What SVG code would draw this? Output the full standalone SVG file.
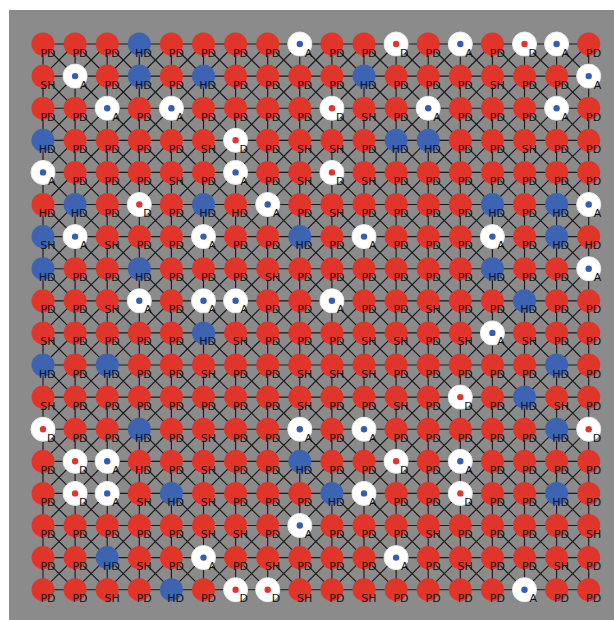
<svg xmlns="http://www.w3.org/2000/svg" width="614" height="620" viewBox="0 0 614 620">
<style>
.r{fill:#e2352a}
.b{fill:#3d63b3}
.w{fill:#ffffff;stroke:#ececec;stroke-width:1}
.bd{fill:#2f5fb8}
.rd{fill:#e2352a}
text{font-family:"DejaVu Sans","Liberation Sans",sans-serif;font-size:11px;fill:#111;text-anchor:end}
.edges{fill:none;stroke:#1a1a1a;stroke-width:1.15}
</style>
<rect x="0" y="0" width="614" height="620" fill="#ffffff"/>
<rect x="9" y="10" width="605" height="610" fill="#8b8b8b"/>
<g transform="translate(43 44)">
<g id="connectors" class="edges">
<path d="M0 0H545.7M0 32.1H545.7M0 64.2H545.7M0 96.3H545.7M0 128.4H545.7M0 160.5H545.7M0 192.6H545.7M0 224.7H545.7M0 256.8H545.7M0 288.9H545.7M0 321H545.7M0 353.1H545.7M0 385.2H545.7M0 417.3H545.7M0 449.4H545.7M0 481.5H545.7M0 513.6H545.7M0 545.7H545.7"/>
<path d="M0 0V545.7M32.1 0V545.7M64.2 0V545.7M96.3 0V545.7M128.4 0V545.7M160.5 0V545.7M192.6 0V545.7M224.7 0V545.7M256.8 0V545.7M288.9 0V545.7M321 0V545.7M353.1 0V545.7M385.2 0V545.7M417.3 0V545.7M449.4 0V545.7M481.5 0V545.7M513.6 0V545.7M545.7 0V545.7"/>
<path d="M0 0L545.7 545.7M32.1 0L545.7 513.6M64.2 0L545.7 481.5M96.3 0L545.7 449.4M128.4 0L545.7 417.3M160.5 0L545.7 385.2M192.6 0L545.7 353.1M224.7 0L545.7 321M256.8 0L545.7 288.9M288.9 0L545.7 256.8M321 0L545.7 224.7M353.1 0L545.7 192.6M385.2 0L545.7 160.5M417.3 0L545.7 128.4M449.4 0L545.7 96.3M481.5 0L545.7 64.2M513.6 0L545.7 32.1M0 32.1L513.6 545.7M0 64.2L481.5 545.7M0 96.3L449.4 545.7M0 128.4L417.3 545.7M0 160.5L385.2 545.7M0 192.6L353.1 545.7M0 224.7L321 545.7M0 256.8L288.9 545.7M0 288.9L256.8 545.7M0 321L224.7 545.7M0 353.1L192.6 545.7M0 385.2L160.5 545.7M0 417.3L128.4 545.7M0 449.4L96.3 545.7M0 481.5L64.2 545.7M0 513.6L32.1 545.7"/>
<path d="M32.1 0L0 32.1M64.2 0L0 64.2M96.3 0L0 96.3M128.4 0L0 128.4M160.5 0L0 160.5M192.6 0L0 192.6M224.7 0L0 224.7M256.8 0L0 256.8M288.9 0L0 288.9M321 0L0 321M353.1 0L0 353.1M385.2 0L0 385.2M417.3 0L0 417.3M449.4 0L0 449.4M481.5 0L0 481.5M513.6 0L0 513.6M545.7 0L0 545.7M545.7 32.1L32.1 545.7M545.7 64.2L64.2 545.7M545.7 96.3L96.3 545.7M545.7 128.4L128.4 545.7M545.7 160.5L160.5 545.7M545.7 192.6L192.6 545.7M545.7 224.7L224.7 545.7M545.7 256.8L256.8 545.7M545.7 288.9L288.9 545.7M545.7 321L321 545.7M545.7 353.1L353.1 545.7M545.7 385.2L385.2 545.7M545.7 417.3L417.3 545.7M545.7 449.4L449.4 545.7M545.7 481.5L481.5 545.7M545.7 513.6L513.6 545.7"/>
</g>
<g id="nodes">
<g id="r0c0" transform="translate(0 0)"><circle class="r" r="11.5"/><text x="12.5" y="12.5">PD</text></g>
<g id="r0c1" transform="translate(32.1 0)"><circle class="r" r="11.5"/><text x="12.5" y="12.5">PD</text></g>
<g id="r0c2" transform="translate(64.2 0)"><circle class="r" r="11.5"/><text x="12.5" y="12.5">PD</text></g>
<g id="r0c3" transform="translate(96.3 0)"><circle class="b" r="11.5"/><text x="12.5" y="12.5">HD</text></g>
<g id="r0c4" transform="translate(128.4 0)"><circle class="r" r="11.5"/><text x="12.5" y="12.5">PD</text></g>
<g id="r0c5" transform="translate(160.5 0)"><circle class="r" r="11.5"/><text x="12.5" y="12.5">PD</text></g>
<g id="r0c6" transform="translate(192.6 0)"><circle class="r" r="11.5"/><text x="12.5" y="12.5">PD</text></g>
<g id="r0c7" transform="translate(224.7 0)"><circle class="r" r="11.5"/><text x="12.5" y="12.5">PD</text></g>
<g id="r0c8" transform="translate(256.8 0)"><circle class="w" r="12"/><circle class="bd" r="3.2"/><text x="12.5" y="12.5">A</text></g>
<g id="r0c9" transform="translate(288.9 0)"><circle class="r" r="11.5"/><text x="12.5" y="12.5">PD</text></g>
<g id="r0c10" transform="translate(321 0)"><circle class="r" r="11.5"/><text x="12.5" y="12.5">PD</text></g>
<g id="r0c11" transform="translate(353.1 0)"><circle class="w" r="12"/><circle class="rd" r="3.2"/><text x="12.5" y="12.5">D</text></g>
<g id="r0c12" transform="translate(385.2 0)"><circle class="r" r="11.5"/><text x="12.5" y="12.5">PD</text></g>
<g id="r0c13" transform="translate(417.3 0)"><circle class="w" r="12"/><circle class="bd" r="3.2"/><text x="12.5" y="12.5">A</text></g>
<g id="r0c14" transform="translate(449.4 0)"><circle class="r" r="11.5"/><text x="12.5" y="12.5">PD</text></g>
<g id="r0c15" transform="translate(481.5 0)"><circle class="w" r="12"/><circle class="rd" r="3.2"/><text x="12.5" y="12.5">D</text></g>
<g id="r0c16" transform="translate(513.6 0)"><circle class="w" r="12"/><circle class="bd" r="3.2"/><text x="12.5" y="12.5">A</text></g>
<g id="r0c17" transform="translate(545.7 0)"><circle class="r" r="11.5"/><text x="12.5" y="12.5">PD</text></g>
<g id="r1c0" transform="translate(0 32.1)"><circle class="r" r="11.5"/><text x="12.5" y="12.5">SH</text></g>
<g id="r1c1" transform="translate(32.1 32.1)"><circle class="w" r="12"/><circle class="bd" r="3.2"/><text x="12.5" y="12.5">A</text></g>
<g id="r1c2" transform="translate(64.2 32.1)"><circle class="r" r="11.5"/><text x="12.5" y="12.5">PD</text></g>
<g id="r1c3" transform="translate(96.3 32.1)"><circle class="b" r="11.5"/><text x="12.5" y="12.5">HD</text></g>
<g id="r1c4" transform="translate(128.4 32.1)"><circle class="r" r="11.5"/><text x="12.5" y="12.5">PD</text></g>
<g id="r1c5" transform="translate(160.5 32.1)"><circle class="b" r="11.5"/><text x="12.5" y="12.5">HD</text></g>
<g id="r1c6" transform="translate(192.6 32.1)"><circle class="r" r="11.5"/><text x="12.5" y="12.5">PD</text></g>
<g id="r1c7" transform="translate(224.7 32.1)"><circle class="r" r="11.5"/><text x="12.5" y="12.5">PD</text></g>
<g id="r1c8" transform="translate(256.8 32.1)"><circle class="r" r="11.5"/><text x="12.5" y="12.5">PD</text></g>
<g id="r1c9" transform="translate(288.9 32.1)"><circle class="r" r="11.5"/><text x="12.5" y="12.5">PD</text></g>
<g id="r1c10" transform="translate(321 32.1)"><circle class="b" r="11.5"/><text x="12.5" y="12.5">HD</text></g>
<g id="r1c11" transform="translate(353.1 32.1)"><circle class="r" r="11.5"/><text x="12.5" y="12.5">PD</text></g>
<g id="r1c12" transform="translate(385.2 32.1)"><circle class="r" r="11.5"/><text x="12.5" y="12.5">PD</text></g>
<g id="r1c13" transform="translate(417.3 32.1)"><circle class="r" r="11.5"/><text x="12.5" y="12.5">PD</text></g>
<g id="r1c14" transform="translate(449.4 32.1)"><circle class="r" r="11.5"/><text x="12.5" y="12.5">SH</text></g>
<g id="r1c15" transform="translate(481.5 32.1)"><circle class="r" r="11.5"/><text x="12.5" y="12.5">PD</text></g>
<g id="r1c16" transform="translate(513.6 32.1)"><circle class="r" r="11.5"/><text x="12.5" y="12.5">PD</text></g>
<g id="r1c17" transform="translate(545.7 32.1)"><circle class="w" r="12"/><circle class="bd" r="3.2"/><text x="12.5" y="12.5">A</text></g>
<g id="r2c0" transform="translate(0 64.2)"><circle class="r" r="11.5"/><text x="12.5" y="12.5">PD</text></g>
<g id="r2c1" transform="translate(32.1 64.2)"><circle class="r" r="11.5"/><text x="12.5" y="12.5">PD</text></g>
<g id="r2c2" transform="translate(64.2 64.2)"><circle class="w" r="12"/><circle class="bd" r="3.2"/><text x="12.5" y="12.5">A</text></g>
<g id="r2c3" transform="translate(96.3 64.2)"><circle class="r" r="11.5"/><text x="12.5" y="12.5">PD</text></g>
<g id="r2c4" transform="translate(128.4 64.2)"><circle class="w" r="12"/><circle class="bd" r="3.2"/><text x="12.5" y="12.5">A</text></g>
<g id="r2c5" transform="translate(160.5 64.2)"><circle class="r" r="11.5"/><text x="12.5" y="12.5">PD</text></g>
<g id="r2c6" transform="translate(192.6 64.2)"><circle class="r" r="11.5"/><text x="12.5" y="12.5">PD</text></g>
<g id="r2c7" transform="translate(224.7 64.2)"><circle class="r" r="11.5"/><text x="12.5" y="12.5">PD</text></g>
<g id="r2c8" transform="translate(256.8 64.2)"><circle class="r" r="11.5"/><text x="12.5" y="12.5">PD</text></g>
<g id="r2c9" transform="translate(288.9 64.2)"><circle class="w" r="12"/><circle class="rd" r="3.2"/><text x="12.5" y="12.5">D</text></g>
<g id="r2c10" transform="translate(321 64.2)"><circle class="r" r="11.5"/><text x="12.5" y="12.5">SH</text></g>
<g id="r2c11" transform="translate(353.1 64.2)"><circle class="r" r="11.5"/><text x="12.5" y="12.5">PD</text></g>
<g id="r2c12" transform="translate(385.2 64.2)"><circle class="w" r="12"/><circle class="bd" r="3.2"/><text x="12.5" y="12.5">A</text></g>
<g id="r2c13" transform="translate(417.3 64.2)"><circle class="r" r="11.5"/><text x="12.5" y="12.5">PD</text></g>
<g id="r2c14" transform="translate(449.4 64.2)"><circle class="r" r="11.5"/><text x="12.5" y="12.5">PD</text></g>
<g id="r2c15" transform="translate(481.5 64.2)"><circle class="r" r="11.5"/><text x="12.5" y="12.5">PD</text></g>
<g id="r2c16" transform="translate(513.6 64.2)"><circle class="w" r="12"/><circle class="bd" r="3.2"/><text x="12.5" y="12.5">A</text></g>
<g id="r2c17" transform="translate(545.7 64.2)"><circle class="r" r="11.5"/><text x="12.5" y="12.5">PD</text></g>
<g id="r3c0" transform="translate(0 96.3)"><circle class="b" r="11.5"/><text x="12.5" y="12.5">HD</text></g>
<g id="r3c1" transform="translate(32.1 96.3)"><circle class="r" r="11.5"/><text x="12.5" y="12.5">PD</text></g>
<g id="r3c2" transform="translate(64.2 96.3)"><circle class="r" r="11.5"/><text x="12.5" y="12.5">PD</text></g>
<g id="r3c3" transform="translate(96.3 96.3)"><circle class="r" r="11.5"/><text x="12.5" y="12.5">PD</text></g>
<g id="r3c4" transform="translate(128.4 96.3)"><circle class="r" r="11.5"/><text x="12.5" y="12.5">PD</text></g>
<g id="r3c5" transform="translate(160.5 96.3)"><circle class="r" r="11.5"/><text x="12.5" y="12.5">SH</text></g>
<g id="r3c6" transform="translate(192.6 96.3)"><circle class="w" r="12"/><circle class="rd" r="3.2"/><text x="12.5" y="12.5">D</text></g>
<g id="r3c7" transform="translate(224.7 96.3)"><circle class="r" r="11.5"/><text x="12.5" y="12.5">PD</text></g>
<g id="r3c8" transform="translate(256.8 96.3)"><circle class="r" r="11.5"/><text x="12.5" y="12.5">SH</text></g>
<g id="r3c9" transform="translate(288.9 96.3)"><circle class="r" r="11.5"/><text x="12.5" y="12.5">SH</text></g>
<g id="r3c10" transform="translate(321 96.3)"><circle class="r" r="11.5"/><text x="12.5" y="12.5">PD</text></g>
<g id="r3c11" transform="translate(353.1 96.3)"><circle class="b" r="11.5"/><text x="12.5" y="12.5">HD</text></g>
<g id="r3c12" transform="translate(385.2 96.3)"><circle class="b" r="11.5"/><text x="12.5" y="12.5">HD</text></g>
<g id="r3c13" transform="translate(417.3 96.3)"><circle class="r" r="11.5"/><text x="12.5" y="12.5">PD</text></g>
<g id="r3c14" transform="translate(449.4 96.3)"><circle class="r" r="11.5"/><text x="12.5" y="12.5">PD</text></g>
<g id="r3c15" transform="translate(481.5 96.3)"><circle class="r" r="11.5"/><text x="12.5" y="12.5">SH</text></g>
<g id="r3c16" transform="translate(513.6 96.3)"><circle class="r" r="11.5"/><text x="12.5" y="12.5">PD</text></g>
<g id="r3c17" transform="translate(545.7 96.3)"><circle class="r" r="11.5"/><text x="12.5" y="12.5">PD</text></g>
<g id="r4c0" transform="translate(0 128.4)"><circle class="w" r="12"/><circle class="bd" r="3.2"/><text x="12.5" y="12.5">A</text></g>
<g id="r4c1" transform="translate(32.1 128.4)"><circle class="r" r="11.5"/><text x="12.5" y="12.5">PD</text></g>
<g id="r4c2" transform="translate(64.2 128.4)"><circle class="r" r="11.5"/><text x="12.5" y="12.5">PD</text></g>
<g id="r4c3" transform="translate(96.3 128.4)"><circle class="r" r="11.5"/><text x="12.5" y="12.5">PD</text></g>
<g id="r4c4" transform="translate(128.4 128.4)"><circle class="r" r="11.5"/><text x="12.5" y="12.5">SH</text></g>
<g id="r4c5" transform="translate(160.5 128.4)"><circle class="r" r="11.5"/><text x="12.5" y="12.5">PD</text></g>
<g id="r4c6" transform="translate(192.6 128.4)"><circle class="w" r="12"/><circle class="bd" r="3.2"/><text x="12.5" y="12.5">A</text></g>
<g id="r4c7" transform="translate(224.7 128.4)"><circle class="r" r="11.5"/><text x="12.5" y="12.5">PD</text></g>
<g id="r4c8" transform="translate(256.8 128.4)"><circle class="r" r="11.5"/><text x="12.5" y="12.5">SH</text></g>
<g id="r4c9" transform="translate(288.9 128.4)"><circle class="w" r="12"/><circle class="rd" r="3.2"/><text x="12.5" y="12.5">D</text></g>
<g id="r4c10" transform="translate(321 128.4)"><circle class="r" r="11.5"/><text x="12.5" y="12.5">SH</text></g>
<g id="r4c11" transform="translate(353.1 128.4)"><circle class="r" r="11.5"/><text x="12.5" y="12.5">PD</text></g>
<g id="r4c12" transform="translate(385.2 128.4)"><circle class="r" r="11.5"/><text x="12.5" y="12.5">PD</text></g>
<g id="r4c13" transform="translate(417.3 128.4)"><circle class="r" r="11.5"/><text x="12.5" y="12.5">PD</text></g>
<g id="r4c14" transform="translate(449.4 128.4)"><circle class="r" r="11.5"/><text x="12.5" y="12.5">PD</text></g>
<g id="r4c15" transform="translate(481.5 128.4)"><circle class="r" r="11.5"/><text x="12.5" y="12.5">PD</text></g>
<g id="r4c16" transform="translate(513.6 128.4)"><circle class="r" r="11.5"/><text x="12.5" y="12.5">PD</text></g>
<g id="r4c17" transform="translate(545.7 128.4)"><circle class="r" r="11.5"/><text x="12.5" y="12.5">PD</text></g>
<g id="r5c0" transform="translate(0 160.5)"><circle class="r" r="11.5"/><text x="12.5" y="12.5">HD</text></g>
<g id="r5c1" transform="translate(32.1 160.5)"><circle class="b" r="11.5"/><text x="12.5" y="12.5">HD</text></g>
<g id="r5c2" transform="translate(64.2 160.5)"><circle class="r" r="11.5"/><text x="12.5" y="12.5">PD</text></g>
<g id="r5c3" transform="translate(96.3 160.5)"><circle class="w" r="12"/><circle class="rd" r="3.2"/><text x="12.5" y="12.5">D</text></g>
<g id="r5c4" transform="translate(128.4 160.5)"><circle class="r" r="11.5"/><text x="12.5" y="12.5">PD</text></g>
<g id="r5c5" transform="translate(160.5 160.5)"><circle class="b" r="11.5"/><text x="12.5" y="12.5">HD</text></g>
<g id="r5c6" transform="translate(192.6 160.5)"><circle class="r" r="11.5"/><text x="12.5" y="12.5">HD</text></g>
<g id="r5c7" transform="translate(224.7 160.5)"><circle class="w" r="12"/><circle class="bd" r="3.2"/><text x="12.5" y="12.5">A</text></g>
<g id="r5c8" transform="translate(256.8 160.5)"><circle class="r" r="11.5"/><text x="12.5" y="12.5">PD</text></g>
<g id="r5c9" transform="translate(288.9 160.5)"><circle class="r" r="11.5"/><text x="12.5" y="12.5">SH</text></g>
<g id="r5c10" transform="translate(321 160.5)"><circle class="r" r="11.5"/><text x="12.5" y="12.5">PD</text></g>
<g id="r5c11" transform="translate(353.1 160.5)"><circle class="r" r="11.5"/><text x="12.5" y="12.5">PD</text></g>
<g id="r5c12" transform="translate(385.2 160.5)"><circle class="r" r="11.5"/><text x="12.5" y="12.5">PD</text></g>
<g id="r5c13" transform="translate(417.3 160.5)"><circle class="r" r="11.5"/><text x="12.5" y="12.5">PD</text></g>
<g id="r5c14" transform="translate(449.4 160.5)"><circle class="b" r="11.5"/><text x="12.5" y="12.5">HD</text></g>
<g id="r5c15" transform="translate(481.5 160.5)"><circle class="r" r="11.5"/><text x="12.5" y="12.5">PD</text></g>
<g id="r5c16" transform="translate(513.6 160.5)"><circle class="b" r="11.5"/><text x="12.5" y="12.5">HD</text></g>
<g id="r5c17" transform="translate(545.7 160.5)"><circle class="w" r="12"/><circle class="bd" r="3.2"/><text x="12.5" y="12.5">A</text></g>
<g id="r6c0" transform="translate(0 192.6)"><circle class="b" r="11.5"/><text x="12.5" y="12.5">SH</text></g>
<g id="r6c1" transform="translate(32.1 192.6)"><circle class="w" r="12"/><circle class="bd" r="3.2"/><text x="12.5" y="12.5">A</text></g>
<g id="r6c2" transform="translate(64.2 192.6)"><circle class="r" r="11.5"/><text x="12.5" y="12.5">SH</text></g>
<g id="r6c3" transform="translate(96.3 192.6)"><circle class="r" r="11.5"/><text x="12.5" y="12.5">PD</text></g>
<g id="r6c4" transform="translate(128.4 192.6)"><circle class="r" r="11.5"/><text x="12.5" y="12.5">PD</text></g>
<g id="r6c5" transform="translate(160.5 192.6)"><circle class="w" r="12"/><circle class="bd" r="3.2"/><text x="12.5" y="12.5">A</text></g>
<g id="r6c6" transform="translate(192.6 192.6)"><circle class="r" r="11.5"/><text x="12.5" y="12.5">PD</text></g>
<g id="r6c7" transform="translate(224.7 192.6)"><circle class="r" r="11.5"/><text x="12.5" y="12.5">PD</text></g>
<g id="r6c8" transform="translate(256.8 192.6)"><circle class="b" r="11.5"/><text x="12.5" y="12.5">HD</text></g>
<g id="r6c9" transform="translate(288.9 192.6)"><circle class="r" r="11.5"/><text x="12.5" y="12.5">PD</text></g>
<g id="r6c10" transform="translate(321 192.6)"><circle class="w" r="12"/><circle class="bd" r="3.2"/><text x="12.5" y="12.5">A</text></g>
<g id="r6c11" transform="translate(353.1 192.6)"><circle class="r" r="11.5"/><text x="12.5" y="12.5">PD</text></g>
<g id="r6c12" transform="translate(385.2 192.6)"><circle class="r" r="11.5"/><text x="12.5" y="12.5">PD</text></g>
<g id="r6c13" transform="translate(417.3 192.6)"><circle class="r" r="11.5"/><text x="12.5" y="12.5">PD</text></g>
<g id="r6c14" transform="translate(449.4 192.6)"><circle class="w" r="12"/><circle class="bd" r="3.2"/><text x="12.5" y="12.5">A</text></g>
<g id="r6c15" transform="translate(481.5 192.6)"><circle class="r" r="11.5"/><text x="12.5" y="12.5">PD</text></g>
<g id="r6c16" transform="translate(513.6 192.6)"><circle class="b" r="11.5"/><text x="12.5" y="12.5">HD</text></g>
<g id="r6c17" transform="translate(545.7 192.6)"><circle class="r" r="11.5"/><text x="12.5" y="12.5">HD</text></g>
<g id="r7c0" transform="translate(0 224.7)"><circle class="b" r="11.5"/><text x="12.5" y="12.5">HD</text></g>
<g id="r7c1" transform="translate(32.1 224.7)"><circle class="r" r="11.5"/><text x="12.5" y="12.5">PD</text></g>
<g id="r7c2" transform="translate(64.2 224.7)"><circle class="r" r="11.5"/><text x="12.5" y="12.5">PD</text></g>
<g id="r7c3" transform="translate(96.3 224.7)"><circle class="b" r="11.5"/><text x="12.5" y="12.5">HD</text></g>
<g id="r7c4" transform="translate(128.4 224.7)"><circle class="r" r="11.5"/><text x="12.5" y="12.5">PD</text></g>
<g id="r7c5" transform="translate(160.5 224.7)"><circle class="r" r="11.5"/><text x="12.5" y="12.5">PD</text></g>
<g id="r7c6" transform="translate(192.6 224.7)"><circle class="r" r="11.5"/><text x="12.5" y="12.5">PD</text></g>
<g id="r7c7" transform="translate(224.7 224.7)"><circle class="r" r="11.5"/><text x="12.5" y="12.5">SH</text></g>
<g id="r7c8" transform="translate(256.8 224.7)"><circle class="r" r="11.5"/><text x="12.5" y="12.5">PD</text></g>
<g id="r7c9" transform="translate(288.9 224.7)"><circle class="r" r="11.5"/><text x="12.5" y="12.5">PD</text></g>
<g id="r7c10" transform="translate(321 224.7)"><circle class="r" r="11.5"/><text x="12.5" y="12.5">PD</text></g>
<g id="r7c11" transform="translate(353.1 224.7)"><circle class="r" r="11.5"/><text x="12.5" y="12.5">PD</text></g>
<g id="r7c12" transform="translate(385.2 224.7)"><circle class="r" r="11.5"/><text x="12.5" y="12.5">PD</text></g>
<g id="r7c13" transform="translate(417.3 224.7)"><circle class="r" r="11.5"/><text x="12.5" y="12.5">PD</text></g>
<g id="r7c14" transform="translate(449.4 224.7)"><circle class="b" r="11.5"/><text x="12.5" y="12.5">HD</text></g>
<g id="r7c15" transform="translate(481.5 224.7)"><circle class="r" r="11.5"/><text x="12.5" y="12.5">PD</text></g>
<g id="r7c16" transform="translate(513.6 224.7)"><circle class="r" r="11.5"/><text x="12.5" y="12.5">PD</text></g>
<g id="r7c17" transform="translate(545.7 224.7)"><circle class="w" r="12"/><circle class="bd" r="3.2"/><text x="12.5" y="12.5">A</text></g>
<g id="r8c0" transform="translate(0 256.8)"><circle class="r" r="11.5"/><text x="12.5" y="12.5">PD</text></g>
<g id="r8c1" transform="translate(32.1 256.8)"><circle class="r" r="11.5"/><text x="12.5" y="12.5">PD</text></g>
<g id="r8c2" transform="translate(64.2 256.8)"><circle class="r" r="11.5"/><text x="12.5" y="12.5">SH</text></g>
<g id="r8c3" transform="translate(96.3 256.8)"><circle class="w" r="12"/><circle class="bd" r="3.2"/><text x="12.5" y="12.5">A</text></g>
<g id="r8c4" transform="translate(128.4 256.8)"><circle class="r" r="11.5"/><text x="12.5" y="12.5">PD</text></g>
<g id="r8c5" transform="translate(160.5 256.8)"><circle class="w" r="12"/><circle class="bd" r="3.2"/><text x="12.5" y="12.5">A</text></g>
<g id="r8c6" transform="translate(192.6 256.8)"><circle class="w" r="12"/><circle class="bd" r="3.2"/><text x="12.5" y="12.5">A</text></g>
<g id="r8c7" transform="translate(224.7 256.8)"><circle class="r" r="11.5"/><text x="12.5" y="12.5">PD</text></g>
<g id="r8c8" transform="translate(256.8 256.8)"><circle class="r" r="11.5"/><text x="12.5" y="12.5">PD</text></g>
<g id="r8c9" transform="translate(288.9 256.8)"><circle class="w" r="12"/><circle class="bd" r="3.2"/><text x="12.5" y="12.5">A</text></g>
<g id="r8c10" transform="translate(321 256.8)"><circle class="r" r="11.5"/><text x="12.5" y="12.5">PD</text></g>
<g id="r8c11" transform="translate(353.1 256.8)"><circle class="r" r="11.5"/><text x="12.5" y="12.5">PD</text></g>
<g id="r8c12" transform="translate(385.2 256.8)"><circle class="r" r="11.5"/><text x="12.5" y="12.5">SH</text></g>
<g id="r8c13" transform="translate(417.3 256.8)"><circle class="r" r="11.5"/><text x="12.5" y="12.5">PD</text></g>
<g id="r8c14" transform="translate(449.4 256.8)"><circle class="r" r="11.5"/><text x="12.5" y="12.5">PD</text></g>
<g id="r8c15" transform="translate(481.5 256.8)"><circle class="b" r="11.5"/><text x="12.5" y="12.5">HD</text></g>
<g id="r8c16" transform="translate(513.6 256.8)"><circle class="r" r="11.5"/><text x="12.5" y="12.5">PD</text></g>
<g id="r8c17" transform="translate(545.7 256.8)"><circle class="r" r="11.5"/><text x="12.5" y="12.5">PD</text></g>
<g id="r9c0" transform="translate(0 288.9)"><circle class="r" r="11.5"/><text x="12.5" y="12.5">SH</text></g>
<g id="r9c1" transform="translate(32.1 288.9)"><circle class="r" r="11.5"/><text x="12.5" y="12.5">PD</text></g>
<g id="r9c2" transform="translate(64.2 288.9)"><circle class="r" r="11.5"/><text x="12.5" y="12.5">PD</text></g>
<g id="r9c3" transform="translate(96.3 288.9)"><circle class="r" r="11.5"/><text x="12.5" y="12.5">PD</text></g>
<g id="r9c4" transform="translate(128.4 288.9)"><circle class="r" r="11.5"/><text x="12.5" y="12.5">PD</text></g>
<g id="r9c5" transform="translate(160.5 288.9)"><circle class="b" r="11.5"/><text x="12.5" y="12.5">HD</text></g>
<g id="r9c6" transform="translate(192.6 288.9)"><circle class="r" r="11.5"/><text x="12.5" y="12.5">SH</text></g>
<g id="r9c7" transform="translate(224.7 288.9)"><circle class="r" r="11.5"/><text x="12.5" y="12.5">PD</text></g>
<g id="r9c8" transform="translate(256.8 288.9)"><circle class="r" r="11.5"/><text x="12.5" y="12.5">PD</text></g>
<g id="r9c9" transform="translate(288.9 288.9)"><circle class="r" r="11.5"/><text x="12.5" y="12.5">PD</text></g>
<g id="r9c10" transform="translate(321 288.9)"><circle class="r" r="11.5"/><text x="12.5" y="12.5">SH</text></g>
<g id="r9c11" transform="translate(353.1 288.9)"><circle class="r" r="11.5"/><text x="12.5" y="12.5">SH</text></g>
<g id="r9c12" transform="translate(385.2 288.9)"><circle class="r" r="11.5"/><text x="12.5" y="12.5">PD</text></g>
<g id="r9c13" transform="translate(417.3 288.9)"><circle class="r" r="11.5"/><text x="12.5" y="12.5">SH</text></g>
<g id="r9c14" transform="translate(449.4 288.9)"><circle class="w" r="12"/><circle class="bd" r="3.2"/><text x="12.5" y="12.5">A</text></g>
<g id="r9c15" transform="translate(481.5 288.9)"><circle class="r" r="11.5"/><text x="12.5" y="12.5">SH</text></g>
<g id="r9c16" transform="translate(513.6 288.9)"><circle class="r" r="11.5"/><text x="12.5" y="12.5">PD</text></g>
<g id="r9c17" transform="translate(545.7 288.9)"><circle class="r" r="11.5"/><text x="12.5" y="12.5">PD</text></g>
<g id="r10c0" transform="translate(0 321)"><circle class="b" r="11.5"/><text x="12.5" y="12.5">HD</text></g>
<g id="r10c1" transform="translate(32.1 321)"><circle class="r" r="11.5"/><text x="12.5" y="12.5">PD</text></g>
<g id="r10c2" transform="translate(64.2 321)"><circle class="b" r="11.5"/><text x="12.5" y="12.5">HD</text></g>
<g id="r10c3" transform="translate(96.3 321)"><circle class="r" r="11.5"/><text x="12.5" y="12.5">PD</text></g>
<g id="r10c4" transform="translate(128.4 321)"><circle class="r" r="11.5"/><text x="12.5" y="12.5">PD</text></g>
<g id="r10c5" transform="translate(160.5 321)"><circle class="r" r="11.5"/><text x="12.5" y="12.5">SH</text></g>
<g id="r10c6" transform="translate(192.6 321)"><circle class="r" r="11.5"/><text x="12.5" y="12.5">PD</text></g>
<g id="r10c7" transform="translate(224.7 321)"><circle class="r" r="11.5"/><text x="12.5" y="12.5">PD</text></g>
<g id="r10c8" transform="translate(256.8 321)"><circle class="r" r="11.5"/><text x="12.5" y="12.5">SH</text></g>
<g id="r10c9" transform="translate(288.9 321)"><circle class="r" r="11.5"/><text x="12.5" y="12.5">SH</text></g>
<g id="r10c10" transform="translate(321 321)"><circle class="r" r="11.5"/><text x="12.5" y="12.5">SH</text></g>
<g id="r10c11" transform="translate(353.1 321)"><circle class="r" r="11.5"/><text x="12.5" y="12.5">PD</text></g>
<g id="r10c12" transform="translate(385.2 321)"><circle class="r" r="11.5"/><text x="12.5" y="12.5">PD</text></g>
<g id="r10c13" transform="translate(417.3 321)"><circle class="r" r="11.5"/><text x="12.5" y="12.5">PD</text></g>
<g id="r10c14" transform="translate(449.4 321)"><circle class="r" r="11.5"/><text x="12.5" y="12.5">PD</text></g>
<g id="r10c15" transform="translate(481.5 321)"><circle class="r" r="11.5"/><text x="12.5" y="12.5">PD</text></g>
<g id="r10c16" transform="translate(513.6 321)"><circle class="b" r="11.5"/><text x="12.5" y="12.5">HD</text></g>
<g id="r10c17" transform="translate(545.7 321)"><circle class="r" r="11.5"/><text x="12.5" y="12.5">PD</text></g>
<g id="r11c0" transform="translate(0 353.1)"><circle class="r" r="11.5"/><text x="12.5" y="12.5">SH</text></g>
<g id="r11c1" transform="translate(32.1 353.1)"><circle class="r" r="11.5"/><text x="12.5" y="12.5">PD</text></g>
<g id="r11c2" transform="translate(64.2 353.1)"><circle class="r" r="11.5"/><text x="12.5" y="12.5">PD</text></g>
<g id="r11c3" transform="translate(96.3 353.1)"><circle class="r" r="11.5"/><text x="12.5" y="12.5">PD</text></g>
<g id="r11c4" transform="translate(128.4 353.1)"><circle class="r" r="11.5"/><text x="12.5" y="12.5">PD</text></g>
<g id="r11c5" transform="translate(160.5 353.1)"><circle class="r" r="11.5"/><text x="12.5" y="12.5">PD</text></g>
<g id="r11c6" transform="translate(192.6 353.1)"><circle class="r" r="11.5"/><text x="12.5" y="12.5">PD</text></g>
<g id="r11c7" transform="translate(224.7 353.1)"><circle class="r" r="11.5"/><text x="12.5" y="12.5">PD</text></g>
<g id="r11c8" transform="translate(256.8 353.1)"><circle class="r" r="11.5"/><text x="12.5" y="12.5">SH</text></g>
<g id="r11c9" transform="translate(288.9 353.1)"><circle class="r" r="11.5"/><text x="12.5" y="12.5">PD</text></g>
<g id="r11c10" transform="translate(321 353.1)"><circle class="r" r="11.5"/><text x="12.5" y="12.5">PD</text></g>
<g id="r11c11" transform="translate(353.1 353.1)"><circle class="r" r="11.5"/><text x="12.5" y="12.5">SH</text></g>
<g id="r11c12" transform="translate(385.2 353.1)"><circle class="r" r="11.5"/><text x="12.5" y="12.5">PD</text></g>
<g id="r11c13" transform="translate(417.3 353.1)"><circle class="w" r="12"/><circle class="rd" r="3.2"/><text x="12.5" y="12.5">D</text></g>
<g id="r11c14" transform="translate(449.4 353.1)"><circle class="r" r="11.5"/><text x="12.5" y="12.5">PD</text></g>
<g id="r11c15" transform="translate(481.5 353.1)"><circle class="b" r="11.5"/><text x="12.5" y="12.5">HD</text></g>
<g id="r11c16" transform="translate(513.6 353.1)"><circle class="r" r="11.5"/><text x="12.5" y="12.5">SH</text></g>
<g id="r11c17" transform="translate(545.7 353.1)"><circle class="r" r="11.5"/><text x="12.5" y="12.5">PD</text></g>
<g id="r12c0" transform="translate(0 385.2)"><circle class="w" r="12"/><circle class="rd" r="3.2"/><text x="12.5" y="12.5">D</text></g>
<g id="r12c1" transform="translate(32.1 385.2)"><circle class="r" r="11.5"/><text x="12.5" y="12.5">PD</text></g>
<g id="r12c2" transform="translate(64.2 385.2)"><circle class="r" r="11.5"/><text x="12.5" y="12.5">PD</text></g>
<g id="r12c3" transform="translate(96.3 385.2)"><circle class="b" r="11.5"/><text x="12.5" y="12.5">HD</text></g>
<g id="r12c4" transform="translate(128.4 385.2)"><circle class="r" r="11.5"/><text x="12.5" y="12.5">PD</text></g>
<g id="r12c5" transform="translate(160.5 385.2)"><circle class="r" r="11.5"/><text x="12.5" y="12.5">SH</text></g>
<g id="r12c6" transform="translate(192.6 385.2)"><circle class="r" r="11.5"/><text x="12.5" y="12.5">PD</text></g>
<g id="r12c7" transform="translate(224.7 385.2)"><circle class="r" r="11.5"/><text x="12.5" y="12.5">PD</text></g>
<g id="r12c8" transform="translate(256.8 385.2)"><circle class="w" r="12"/><circle class="bd" r="3.2"/><text x="12.5" y="12.5">A</text></g>
<g id="r12c9" transform="translate(288.9 385.2)"><circle class="r" r="11.5"/><text x="12.5" y="12.5">PD</text></g>
<g id="r12c10" transform="translate(321 385.2)"><circle class="w" r="12"/><circle class="bd" r="3.2"/><text x="12.5" y="12.5">A</text></g>
<g id="r12c11" transform="translate(353.1 385.2)"><circle class="r" r="11.5"/><text x="12.5" y="12.5">PD</text></g>
<g id="r12c12" transform="translate(385.2 385.2)"><circle class="r" r="11.5"/><text x="12.5" y="12.5">PD</text></g>
<g id="r12c13" transform="translate(417.3 385.2)"><circle class="r" r="11.5"/><text x="12.5" y="12.5">PD</text></g>
<g id="r12c14" transform="translate(449.4 385.2)"><circle class="r" r="11.5"/><text x="12.5" y="12.5">PD</text></g>
<g id="r12c15" transform="translate(481.5 385.2)"><circle class="r" r="11.5"/><text x="12.5" y="12.5">PD</text></g>
<g id="r12c16" transform="translate(513.6 385.2)"><circle class="b" r="11.5"/><text x="12.5" y="12.5">HD</text></g>
<g id="r12c17" transform="translate(545.7 385.2)"><circle class="w" r="12"/><circle class="rd" r="3.2"/><text x="12.5" y="12.5">D</text></g>
<g id="r13c0" transform="translate(0 417.3)"><circle class="r" r="11.5"/><text x="12.5" y="12.5">PD</text></g>
<g id="r13c1" transform="translate(32.1 417.3)"><circle class="w" r="12"/><circle class="rd" r="3.2"/><text x="12.5" y="12.5">D</text></g>
<g id="r13c2" transform="translate(64.2 417.3)"><circle class="w" r="12"/><circle class="bd" r="3.2"/><text x="12.5" y="12.5">A</text></g>
<g id="r13c3" transform="translate(96.3 417.3)"><circle class="r" r="11.5"/><text x="12.5" y="12.5">HD</text></g>
<g id="r13c4" transform="translate(128.4 417.3)"><circle class="r" r="11.5"/><text x="12.5" y="12.5">PD</text></g>
<g id="r13c5" transform="translate(160.5 417.3)"><circle class="r" r="11.5"/><text x="12.5" y="12.5">SH</text></g>
<g id="r13c6" transform="translate(192.6 417.3)"><circle class="r" r="11.5"/><text x="12.5" y="12.5">PD</text></g>
<g id="r13c7" transform="translate(224.7 417.3)"><circle class="r" r="11.5"/><text x="12.5" y="12.5">PD</text></g>
<g id="r13c8" transform="translate(256.8 417.3)"><circle class="b" r="11.5"/><text x="12.5" y="12.5">HD</text></g>
<g id="r13c9" transform="translate(288.9 417.3)"><circle class="r" r="11.5"/><text x="12.5" y="12.5">PD</text></g>
<g id="r13c10" transform="translate(321 417.3)"><circle class="r" r="11.5"/><text x="12.5" y="12.5">PD</text></g>
<g id="r13c11" transform="translate(353.1 417.3)"><circle class="w" r="12"/><circle class="rd" r="3.2"/><text x="12.5" y="12.5">D</text></g>
<g id="r13c12" transform="translate(385.2 417.3)"><circle class="r" r="11.5"/><text x="12.5" y="12.5">PD</text></g>
<g id="r13c13" transform="translate(417.3 417.3)"><circle class="w" r="12"/><circle class="bd" r="3.2"/><text x="12.5" y="12.5">A</text></g>
<g id="r13c14" transform="translate(449.4 417.3)"><circle class="r" r="11.5"/><text x="12.5" y="12.5">PD</text></g>
<g id="r13c15" transform="translate(481.5 417.3)"><circle class="r" r="11.5"/><text x="12.5" y="12.5">PD</text></g>
<g id="r13c16" transform="translate(513.6 417.3)"><circle class="r" r="11.5"/><text x="12.5" y="12.5">PD</text></g>
<g id="r13c17" transform="translate(545.7 417.3)"><circle class="r" r="11.5"/><text x="12.5" y="12.5">PD</text></g>
<g id="r14c0" transform="translate(0 449.4)"><circle class="r" r="11.5"/><text x="12.5" y="12.5">PD</text></g>
<g id="r14c1" transform="translate(32.1 449.4)"><circle class="w" r="12"/><circle class="rd" r="3.2"/><text x="12.5" y="12.5">D</text></g>
<g id="r14c2" transform="translate(64.2 449.4)"><circle class="w" r="12"/><circle class="bd" r="3.2"/><text x="12.5" y="12.5">A</text></g>
<g id="r14c3" transform="translate(96.3 449.4)"><circle class="r" r="11.5"/><text x="12.5" y="12.5">SH</text></g>
<g id="r14c4" transform="translate(128.4 449.4)"><circle class="b" r="11.5"/><text x="12.5" y="12.5">HD</text></g>
<g id="r14c5" transform="translate(160.5 449.4)"><circle class="r" r="11.5"/><text x="12.5" y="12.5">SH</text></g>
<g id="r14c6" transform="translate(192.6 449.4)"><circle class="r" r="11.5"/><text x="12.5" y="12.5">PD</text></g>
<g id="r14c7" transform="translate(224.7 449.4)"><circle class="r" r="11.5"/><text x="12.5" y="12.5">PD</text></g>
<g id="r14c8" transform="translate(256.8 449.4)"><circle class="r" r="11.5"/><text x="12.5" y="12.5">PD</text></g>
<g id="r14c9" transform="translate(288.9 449.4)"><circle class="b" r="11.5"/><text x="12.5" y="12.5">HD</text></g>
<g id="r14c10" transform="translate(321 449.4)"><circle class="w" r="12"/><circle class="bd" r="3.2"/><text x="12.5" y="12.5">A</text></g>
<g id="r14c11" transform="translate(353.1 449.4)"><circle class="r" r="11.5"/><text x="12.5" y="12.5">PD</text></g>
<g id="r14c12" transform="translate(385.2 449.4)"><circle class="r" r="11.5"/><text x="12.5" y="12.5">PD</text></g>
<g id="r14c13" transform="translate(417.3 449.4)"><circle class="w" r="12"/><circle class="rd" r="3.2"/><text x="12.5" y="12.5">D</text></g>
<g id="r14c14" transform="translate(449.4 449.4)"><circle class="r" r="11.5"/><text x="12.5" y="12.5">PD</text></g>
<g id="r14c15" transform="translate(481.5 449.4)"><circle class="r" r="11.5"/><text x="12.5" y="12.5">PD</text></g>
<g id="r14c16" transform="translate(513.6 449.4)"><circle class="b" r="11.5"/><text x="12.5" y="12.5">HD</text></g>
<g id="r14c17" transform="translate(545.7 449.4)"><circle class="r" r="11.5"/><text x="12.5" y="12.5">PD</text></g>
<g id="r15c0" transform="translate(0 481.5)"><circle class="r" r="11.5"/><text x="12.5" y="12.5">PD</text></g>
<g id="r15c1" transform="translate(32.1 481.5)"><circle class="r" r="11.5"/><text x="12.5" y="12.5">PD</text></g>
<g id="r15c2" transform="translate(64.2 481.5)"><circle class="r" r="11.5"/><text x="12.5" y="12.5">PD</text></g>
<g id="r15c3" transform="translate(96.3 481.5)"><circle class="r" r="11.5"/><text x="12.5" y="12.5">PD</text></g>
<g id="r15c4" transform="translate(128.4 481.5)"><circle class="r" r="11.5"/><text x="12.5" y="12.5">PD</text></g>
<g id="r15c5" transform="translate(160.5 481.5)"><circle class="r" r="11.5"/><text x="12.5" y="12.5">SH</text></g>
<g id="r15c6" transform="translate(192.6 481.5)"><circle class="r" r="11.5"/><text x="12.5" y="12.5">SH</text></g>
<g id="r15c7" transform="translate(224.7 481.5)"><circle class="r" r="11.5"/><text x="12.5" y="12.5">PD</text></g>
<g id="r15c8" transform="translate(256.8 481.5)"><circle class="w" r="12"/><circle class="bd" r="3.2"/><text x="12.5" y="12.5">A</text></g>
<g id="r15c9" transform="translate(288.9 481.5)"><circle class="r" r="11.5"/><text x="12.5" y="12.5">PD</text></g>
<g id="r15c10" transform="translate(321 481.5)"><circle class="r" r="11.5"/><text x="12.5" y="12.5">PD</text></g>
<g id="r15c11" transform="translate(353.1 481.5)"><circle class="r" r="11.5"/><text x="12.5" y="12.5">PD</text></g>
<g id="r15c12" transform="translate(385.2 481.5)"><circle class="r" r="11.5"/><text x="12.5" y="12.5">SH</text></g>
<g id="r15c13" transform="translate(417.3 481.5)"><circle class="r" r="11.5"/><text x="12.5" y="12.5">PD</text></g>
<g id="r15c14" transform="translate(449.4 481.5)"><circle class="r" r="11.5"/><text x="12.5" y="12.5">PD</text></g>
<g id="r15c15" transform="translate(481.5 481.5)"><circle class="r" r="11.5"/><text x="12.5" y="12.5">PD</text></g>
<g id="r15c16" transform="translate(513.6 481.5)"><circle class="r" r="11.5"/><text x="12.5" y="12.5">PD</text></g>
<g id="r15c17" transform="translate(545.7 481.5)"><circle class="r" r="11.5"/><text x="12.5" y="12.5">SH</text></g>
<g id="r16c0" transform="translate(0 513.6)"><circle class="r" r="11.5"/><text x="12.5" y="12.5">PD</text></g>
<g id="r16c1" transform="translate(32.1 513.6)"><circle class="r" r="11.5"/><text x="12.5" y="12.5">PD</text></g>
<g id="r16c2" transform="translate(64.2 513.6)"><circle class="b" r="11.5"/><text x="12.5" y="12.5">HD</text></g>
<g id="r16c3" transform="translate(96.3 513.6)"><circle class="r" r="11.5"/><text x="12.5" y="12.5">SH</text></g>
<g id="r16c4" transform="translate(128.4 513.6)"><circle class="r" r="11.5"/><text x="12.5" y="12.5">PD</text></g>
<g id="r16c5" transform="translate(160.5 513.6)"><circle class="w" r="12"/><circle class="bd" r="3.2"/><text x="12.5" y="12.5">A</text></g>
<g id="r16c6" transform="translate(192.6 513.6)"><circle class="r" r="11.5"/><text x="12.5" y="12.5">PD</text></g>
<g id="r16c7" transform="translate(224.7 513.6)"><circle class="r" r="11.5"/><text x="12.5" y="12.5">SH</text></g>
<g id="r16c8" transform="translate(256.8 513.6)"><circle class="r" r="11.5"/><text x="12.5" y="12.5">PD</text></g>
<g id="r16c9" transform="translate(288.9 513.6)"><circle class="r" r="11.5"/><text x="12.5" y="12.5">PD</text></g>
<g id="r16c10" transform="translate(321 513.6)"><circle class="r" r="11.5"/><text x="12.5" y="12.5">PD</text></g>
<g id="r16c11" transform="translate(353.1 513.6)"><circle class="w" r="12"/><circle class="bd" r="3.2"/><text x="12.5" y="12.5">A</text></g>
<g id="r16c12" transform="translate(385.2 513.6)"><circle class="r" r="11.5"/><text x="12.5" y="12.5">PD</text></g>
<g id="r16c13" transform="translate(417.3 513.6)"><circle class="r" r="11.5"/><text x="12.5" y="12.5">SH</text></g>
<g id="r16c14" transform="translate(449.4 513.6)"><circle class="r" r="11.5"/><text x="12.5" y="12.5">PD</text></g>
<g id="r16c15" transform="translate(481.5 513.6)"><circle class="r" r="11.5"/><text x="12.5" y="12.5">PD</text></g>
<g id="r16c16" transform="translate(513.6 513.6)"><circle class="r" r="11.5"/><text x="12.5" y="12.5">SH</text></g>
<g id="r16c17" transform="translate(545.7 513.6)"><circle class="r" r="11.5"/><text x="12.5" y="12.5">PD</text></g>
<g id="r17c0" transform="translate(0 545.7)"><circle class="r" r="11.5"/><text x="12.5" y="12.5">PD</text></g>
<g id="r17c1" transform="translate(32.1 545.7)"><circle class="r" r="11.5"/><text x="12.5" y="12.5">PD</text></g>
<g id="r17c2" transform="translate(64.2 545.7)"><circle class="r" r="11.5"/><text x="12.5" y="12.5">SH</text></g>
<g id="r17c3" transform="translate(96.3 545.7)"><circle class="r" r="11.5"/><text x="12.5" y="12.5">PD</text></g>
<g id="r17c4" transform="translate(128.4 545.7)"><circle class="b" r="11.5"/><text x="12.5" y="12.5">HD</text></g>
<g id="r17c5" transform="translate(160.5 545.7)"><circle class="r" r="11.5"/><text x="12.5" y="12.5">PD</text></g>
<g id="r17c6" transform="translate(192.6 545.7)"><circle class="w" r="12"/><circle class="rd" r="3.2"/><text x="12.5" y="12.5">D</text></g>
<g id="r17c7" transform="translate(224.7 545.7)"><circle class="w" r="12"/><circle class="rd" r="3.2"/><text x="12.5" y="12.5">D</text></g>
<g id="r17c8" transform="translate(256.8 545.7)"><circle class="r" r="11.5"/><text x="12.5" y="12.5">SH</text></g>
<g id="r17c9" transform="translate(288.9 545.7)"><circle class="r" r="11.5"/><text x="12.5" y="12.5">PD</text></g>
<g id="r17c10" transform="translate(321 545.7)"><circle class="r" r="11.5"/><text x="12.5" y="12.5">SH</text></g>
<g id="r17c11" transform="translate(353.1 545.7)"><circle class="r" r="11.5"/><text x="12.5" y="12.5">PD</text></g>
<g id="r17c12" transform="translate(385.2 545.7)"><circle class="r" r="11.5"/><text x="12.5" y="12.5">PD</text></g>
<g id="r17c13" transform="translate(417.3 545.7)"><circle class="r" r="11.5"/><text x="12.5" y="12.5">PD</text></g>
<g id="r17c14" transform="translate(449.4 545.7)"><circle class="r" r="11.5"/><text x="12.5" y="12.5">PD</text></g>
<g id="r17c15" transform="translate(481.5 545.7)"><circle class="w" r="12"/><circle class="bd" r="3.2"/><text x="12.5" y="12.5">A</text></g>
<g id="r17c16" transform="translate(513.6 545.7)"><circle class="r" r="11.5"/><text x="12.5" y="12.5">PD</text></g>
<g id="r17c17" transform="translate(545.7 545.7)"><circle class="r" r="11.5"/><text x="12.5" y="12.5">PD</text></g>
</g>
</g>
</svg>
